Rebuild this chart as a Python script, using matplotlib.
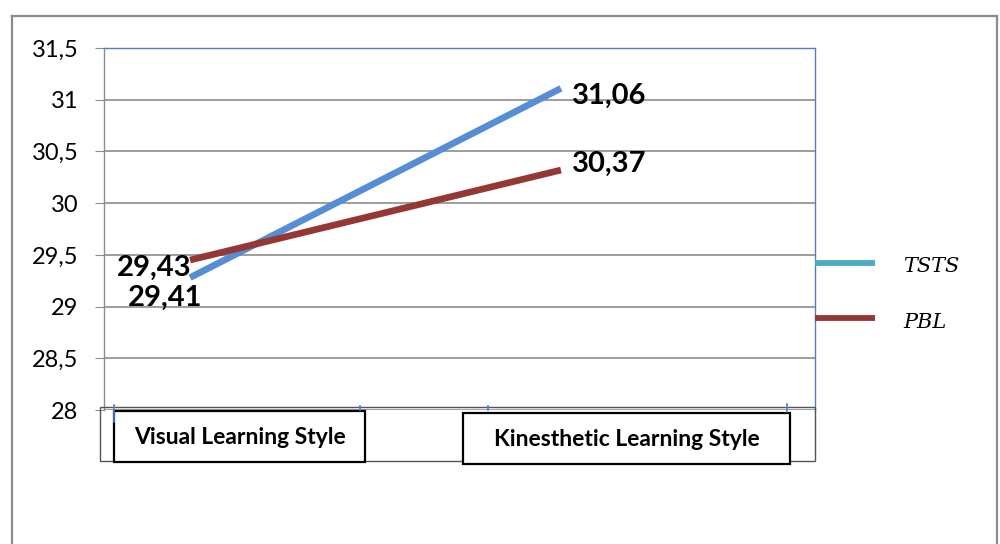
import matplotlib
matplotlib.use("Agg")
import matplotlib.pyplot as plt
from matplotlib.patches import Rectangle
from matplotlib.lines import Line2D

# values
categories = ["Visual Learning Style", "Kinesthetic Learning Style"]
series_names = ["TSTS", "PBL"]
tsts_values = [29.28, 31.11]
pbl_values = [29.45, 30.32]
tsts_labels = ["29,41", "31,06"]
pbl_labels = ["29,43", "30,37"]
y_ticks = [28, 28.5, 29, 29.5, 30, 30.5, 31, 31.5]

W, H = 1000, 544
fig = plt.figure(figsize=(W / 100, H / 100), dpi=100)


def fx(x):
    return x / W


def fy(y):
    return 1 - y / H


# outer grey frame of the chart object
for xs, ys in [([12, 12], [16, 560]), ([12, 997], [16, 16]), ([997, 997], [16, 560])]:
    fig.add_artist(Line2D([fx(v) for v in xs], [fy(v) for v in ys], color="#8c8c8c", lw=1.6))

ax = fig.add_axes([fx(104), fy(410), fx(815) - fx(104), fy(48) - fy(410)])
ax.set_ylim(28, 31.5)
ax.set_xlim(-0.232, 1.685)
ax.set_yticks(y_ticks)
ax.set_yticklabels([("%g" % v).replace(".", ",") for v in y_ticks],
                   fontsize=17, family="Lato")
ax.tick_params(axis="y", length=6.5, color="#8c8c8c", pad=12)
ax.set_xticks([])
ax.grid(axis="y", color="#8c8c8c", lw=1.2)
ax.set_axisbelow(True)
ax.spines["bottom"].set_visible(False)
ax.spines["left"].set_color("#8c8c8c")
ax.spines["top"].set_color("#4f81bd")
ax.spines["right"].set_color("#4f81bd")
for s in ["left", "top", "right"]:
    ax.spines[s].set_linewidth(1.0)

x = range(len(categories))
ax.plot(x, tsts_values, color="#558ed5", lw=4.8, solid_capstyle="butt", zorder=3)
ax.plot(x, pbl_values, color="#953735", lw=4.8, solid_capstyle="butt", zorder=3)

lab_kw = dict(textcoords="offset pixels", fontsize=21, fontweight="bold",
              family="Lato", va="center", annotation_clip=False)
ax.annotate(pbl_labels[0], (0, pbl_values[0]), xytext=(-36, -8), ha="center", **lab_kw)
ax.annotate(tsts_labels[0], (0, tsts_values[0]), xytext=(-25, -20), ha="center", **lab_kw)
ax.annotate(tsts_labels[1], (1, tsts_values[1]), xytext=(11, -8), ha="left", **lab_kw)
ax.annotate(pbl_labels[1], (1, pbl_values[1]), xytext=(11, 6), ha="left", **lab_kw)

# category boxes
fig.add_artist(Rectangle((fx(100), fy(461)), fx(815) - fx(100), fy(407) - fy(461),
                         fill=False, ec="#555555", lw=1.0))
boxes = [(114, 411, 365, 462), (463, 413, 790, 464)]
for (x0, y0, x1, y1), name in zip(boxes, categories):
    fig.add_artist(Rectangle((fx(x0), fy(y1)), fx(x1) - fx(x0), fy(y0) - fy(y1),
                             facecolor="white", ec="black", lw=1.6))
    fig.text(fx((x0 + x1) / 2), fy((y0 + y1) / 2 + 1), name, ha="center", va="center",
             fontsize=16.5, fontweight="bold", family="Lato")

# small blue ticks along the category axis
for xt, y0, y1 in [(114, 405, 422), (360, 406, 410), (488, 406, 410), (787, 404, 412)]:
    fig.add_artist(Line2D([fx(xt), fx(xt)], [fy(y0), fy(y1)], color="#4f81bd", lw=1.2))

# legend
for yl, col, name in [(263, "#4bacc6", series_names[0]), (318, "#953735", series_names[1])]:
    fig.add_artist(Line2D([fx(815), fx(875)], [fy(yl), fy(yl)], color=col, lw=4.2,
                          solid_capstyle="butt"))
    fig.text(fx(903), fy(yl + 4), name, ha="left", va="center", fontsize=15,
             style="italic", family="DejaVu Serif")

fig.savefig("out.png", dpi=100)
